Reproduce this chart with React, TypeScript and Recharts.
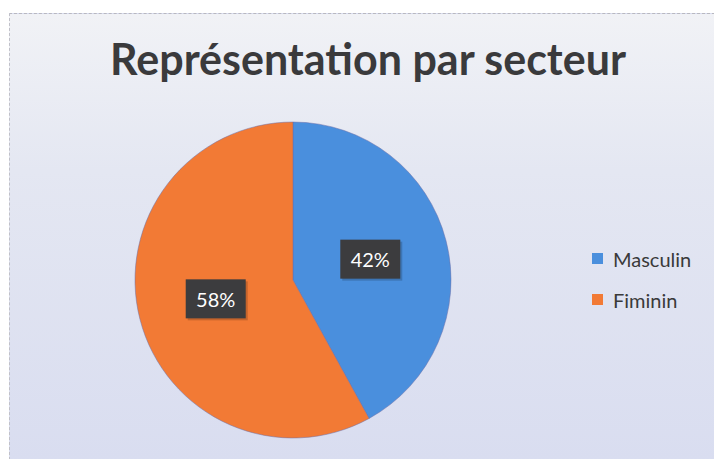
import React from 'react';
import { PieChart, Pie, Cell, Legend } from 'recharts';

const categories = ['Masculin', 'Fiminin'];
const values = [42, 58];
const colors = ['#4a8fdd', '#f27a35'];

const data = categories.map((name, i) => ({ name, value: values[i] }));

const RAD = Math.PI / 180;

const renderLabel = (props: any) => {
  const { cx, cy, midAngle, outerRadius, percent } = props;
  const r = outerRadius * 0.505;
  const x = cx + r * Math.cos(-midAngle * RAD);
  const y = cy + r * Math.sin(-midAngle * RAD) - 1;
  const w = 60;
  const h = 39;
  return (
    <g>
      <rect x={x - w / 2 + 2} y={y - h / 2 + 2} width={w} height={h} fill="rgba(0,0,0,0.18)" />
      <rect x={x - w / 2} y={y - h / 2} width={w} height={h} fill="#3c3c3e" />
      <text
        x={x}
        y={y}
        fill="#ffffff"
        textAnchor="middle"
        dominantBaseline="central"
        fontSize={20}
        fontFamily="Lato, 'Open Sans', sans-serif"
      >
        {`${Math.round(percent * 100)}%`}
      </text>
    </g>
  );
};

const renderLegend = (props: any) => {
  const items = [...(props.payload || [])].sort(
    (a: any, b: any) => categories.indexOf(a.value) - categories.indexOf(b.value)
  );
  return (
    <div>
      {items.map((entry: any, i: number) => (
        <div
          key={i}
          style={{ display: 'flex', alignItems: 'center', height: 41, fontFamily: "Lato, 'Open Sans', sans-serif" }}
        >
          <span style={{ display: 'inline-block', width: 11, height: 11, background: entry.color, marginRight: 10 }} />
          <span style={{ fontSize: 20, color: '#3a3a3a' }}>{entry.value}</span>
        </div>
      ))}
    </div>
  );
};

export default function App() {
  return (
    <div style={{ position: 'fixed', left: 0, top: 0, width: 714, height: 459, background: '#ffffff', overflow: 'hidden' }}>
      <div
        style={{
          position: 'absolute',
          left: 9,
          top: 13,
          width: 705,
          height: 446,
          borderTop: '1px dashed #b8b8c0',
          borderLeft: '1px dashed #c0c0c8',
          background: 'linear-gradient(180deg, #f1f2f6 0%, #e4e7f2 35%, #d9ddf0 100%)',
        }}
      />
      <div
        style={{
          position: 'absolute',
          left: 0,
          top: 33,
          width: 736,
          textAlign: 'center',
          fontFamily: "Lato, 'Open Sans', sans-serif",
          fontWeight: 700,
          fontSize: 43,
          color: '#3a3a3c',
          lineHeight: '52px',
        }}
      >
        Représentation par secteur
      </div>
      <div style={{ position: 'absolute', left: 0, top: 0 }}>
        <PieChart width={714} height={459} margin={{ top: 0, right: 0, bottom: 0, left: 0 }}>
          <Pie
            data={data}
            dataKey="value"
            nameKey="name"
            cx={293}
            cy={280}
            outerRadius={158}
            startAngle={90}
            endAngle={-270}
            stroke="#6a6fa8"
            strokeWidth={0.5}
            label={renderLabel}
            labelLine={false}
            isAnimationActive={false}
          >
            {data.map((d, i) => (
              <Cell key={d.name} fill={colors[i]} />
            ))}
          </Pie>
          <Legend
            layout="vertical"
            content={renderLegend}
            wrapperStyle={{ position: 'absolute', left: 592, top: 238, width: 120 }}
          />
        </PieChart>
      </div>
    </div>
  );
}
